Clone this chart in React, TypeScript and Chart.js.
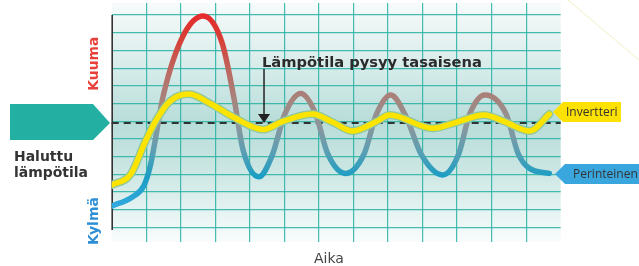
import React, { useEffect, useRef } from "react";
import { Chart, registerables } from "chart.js";

Chart.register(...registerables);

// ---- Data (arbitrary units: time on x, temperature on y) ----
const timeTicks = [0, 1, 2, 3, 4, 5, 6, 7, 8, 9, 10, 11, 12, 13];
const tempTicks = [0, 1, 2, 3, 4, 5, 6, 7, 8, 9, 10, 11, 12];
const targetTemp = 5.9;
const noteTime = 4.41;

const perinteinenTime = [
  0, 0.6, 0.93, 1.12, 1.5, 2.05, 2.65, 3.2, 3.55, 3.8, 4.26, 4.64, 5.01, 5.47,
  5.9, 6.25, 6.77, 7.31, 7.66, 8.08, 8.5, 8.97, 9.58, 10.05, 10.36, 10.81, 11.42,
  11.77, 12.08, 12.67,
];
const perinteinenTemp = [
  1.2, 1.72, 2.35, 3.5, 7.5, 10.75, 11.94, 10.4, 7.2, 4.4, 2.86, 4.04, 6.39, 7.57,
  6.44, 4.18, 3.05, 4.16, 6.37, 7.48, 6.35, 4.09, 2.96, 4.16, 6.37, 7.48, 6.4,
  4.16, 3.35, 3.05,
];

const invertteriTime = [
  0, 0.55, 0.97, 1.3, 1.7, 2.24, 2.85, 3.53, 4.39, 4.93, 5.81, 6.39, 6.97, 7.64,
  8.05, 9.29, 10.0, 10.78, 11.4, 12.1, 12.67,
];
const invertteriTemp = [
  2.39, 3.0, 4.84, 6.1, 7.15, 7.53, 7.0, 6.22, 5.53, 5.97, 6.4, 5.95, 5.44, 5.95,
  6.35, 5.6, 5.95, 6.35, 5.95, 5.44, 6.4,
];

const hotLabel = "Kuuma";
const coldLabel = "Kylmä";
const desiredLabel = ["Haluttu", "lämpötila"];
const noteLabel = "Lämpötila pysyy tasaisena";
const xTitle = "Aika";
const inverterLabel = "Invertteri";
const traditionalLabel = "Perinteinen";

const GRID = "rgba(38,178,163,0.85)";
const FAMILY = "'DejaVu Sans', sans-serif";

const toPoints = (xs: number[], ys: number[]) => xs.map((x, i) => ({ x, y: ys[i] }));

// choose a font size so that text spans the given width
function fitFont(ctx: CanvasRenderingContext2D, text: string, width: number, weight: string) {
  ctx.font = `${weight} 20px ${FAMILY}`;
  const w = ctx.measureText(text).width;
  const size = (20 * width) / w;
  ctx.font = `${weight} ${size.toFixed(2)}px ${FAMILY}`;
}

const decor = {
  id: "decor",
  beforeDraw(chart: any) {
    const { ctx, chartArea: a } = chart;
    ctx.save();
    const g = ctx.createLinearGradient(0, a.top, 0, a.bottom);
    g.addColorStop(0, "#f7fbfb");
    g.addColorStop(0.1, "#ebf5f4");
    g.addColorStop(0.3, "#d3eae8");
    g.addColorStop(0.5, "#b8ddd9");
    g.addColorStop(0.7, "#cbe6e3");
    g.addColorStop(0.9, "#e9f5f4");
    g.addColorStop(1, "#f8fcfc");
    ctx.fillStyle = g;
    ctx.fillRect(a.left, a.top, a.right - a.left, a.bottom - a.top);
    ctx.strokeStyle = "rgba(236,232,170,0.7)";
    ctx.lineWidth = 1;
    ctx.beginPath();
    ctx.moveTo(568, 0);
    ctx.lineTo(639, 60);
    ctx.stroke();
    ctx.restore();
  },
  beforeDatasetsDraw(chart: any) {
    const { ctx, chartArea: a, scales } = chart;
    const ys = scales.y;
    ctx.save();
    ctx.strokeStyle = "#333";
    ctx.lineWidth = 1.6;
    ctx.beginPath();
    ctx.moveTo(a.left + 0.5, ys.getPixelForValue(12));
    ctx.lineTo(a.left + 0.5, ys.getPixelForValue(-0.15));
    ctx.stroke();
    const ty = ys.getPixelForValue(targetTemp);
    ctx.setLineDash([7, 5]);
    ctx.lineWidth = 2;
    ctx.strokeStyle = "#333";
    ctx.beginPath();
    ctx.moveTo(a.left, ty);
    ctx.lineTo(a.right, ty);
    ctx.stroke();
    ctx.restore();
  },
  afterDatasetsDraw(chart: any) {
    const { ctx, scales } = chart;
    const ax = scales.x.getPixelForValue(noteTime);
    const ty = scales.y.getPixelForValue(targetTemp);
    ctx.save();
    ctx.strokeStyle = "#222";
    ctx.fillStyle = "#222";
    ctx.lineWidth = 1.5;
    ctx.beginPath();
    ctx.moveTo(ax, 69);
    ctx.lineTo(ax, ty - 8);
    ctx.stroke();
    ctx.beginPath();
    ctx.moveTo(ax - 6, ty - 9);
    ctx.lineTo(ax + 6, ty - 9);
    ctx.lineTo(ax, ty);
    ctx.closePath();
    ctx.fill();
    fitFont(ctx, noteLabel, 220, "bold");
    ctx.fillStyle = "#2b2b2b";
    ctx.textBaseline = "alphabetic";
    ctx.fillText(noteLabel, 262, 66.5);
    ctx.restore();
  },
  afterDraw(chart: any) {
    const { ctx, scales } = chart;
    const ty = scales.y.getPixelForValue(targetTemp);
    ctx.save();
    ctx.fillStyle = "#23b0a2";
    ctx.beginPath();
    ctx.moveTo(10, ty - 19);
    ctx.lineTo(93, ty - 19);
    ctx.lineTo(110, ty);
    ctx.lineTo(93, ty + 17);
    ctx.lineTo(10, ty + 17);
    ctx.closePath();
    ctx.fill();
    fitFont(ctx, desiredLabel[1], 74, "bold");
    ctx.fillStyle = "#333";
    ctx.textBaseline = "alphabetic";
    ctx.fillText(desiredLabel[0], 14, 161);
    ctx.fillText(desiredLabel[1], 14, 177);
    ctx.textAlign = "center";
    ctx.save();
    ctx.translate(97.5, 63.7);
    ctx.rotate(-Math.PI / 2);
    fitFont(ctx, hotLabel, 54, "bold");
    ctx.fillStyle = "#e8403a";
    ctx.fillText(hotLabel, 0, 0);
    ctx.restore();
    ctx.save();
    ctx.translate(97.5, 221);
    ctx.rotate(-Math.PI / 2);
    fitFont(ctx, coldLabel, 48, "bold");
    ctx.fillStyle = "#2f8fd6";
    ctx.fillText(coldLabel, 0, 0);
    ctx.restore();
    ctx.font = `14px ${FAMILY}`;
    ctx.fillStyle = "#444";
    ctx.fillText(xTitle, 329, 263);
    ctx.textAlign = "left";
    ctx.textBaseline = "middle";
    ctx.fillStyle = "#fde100";
    ctx.beginPath();
    ctx.moveTo(553, 112);
    ctx.lineTo(563, 102);
    ctx.lineTo(621, 102);
    ctx.lineTo(621, 122);
    ctx.lineTo(563, 122);
    ctx.closePath();
    ctx.fill();
    ctx.fillStyle = "#3aa6de";
    ctx.beginPath();
    ctx.moveTo(555, 174);
    ctx.lineTo(565, 164);
    ctx.lineTo(639, 164);
    ctx.lineTo(639, 184);
    ctx.lineTo(565, 184);
    ctx.closePath();
    ctx.fill();
    ctx.font = "12px 'Open Sans', sans-serif";
    ctx.fillStyle = "#333";
    ctx.fillText(inverterLabel, 566, 112.5);
    ctx.fillText(traditionalLabel, 573, 174.5);
    ctx.restore();
  },
};

function traditionalColor(c: any) {
  const chart = c.chart;
  if (!chart.chartArea) return "#888";
  const ys = chart.scales.y;
  const top = ys.getPixelForValue(12);
  const bot = ys.getPixelForValue(1);
  const g = chart.ctx.createLinearGradient(0, top, 0, bot);
  g.addColorStop(0, "#e52b2b");
  g.addColorStop(0.15, "#d4443c");
  g.addColorStop(0.31, "#b86e66");
  g.addColorStop(0.44, "#a5857e");
  g.addColorStop(0.57, "#8b969c");
  g.addColorStop(0.7, "#5b9fb3");
  g.addColorStop(0.83, "#1c9ec4");
  g.addColorStop(1, "#35a9e1");
  return g;
}

export default function App() {
  const ref = useRef<HTMLCanvasElement | null>(null);
  useEffect(() => {
    if (!ref.current) return;
    const gridColor = (lo: number, hi: number) => (c: any) =>
      c.tick && c.tick.value > lo && c.tick.value < hi ? GRID : "rgba(0,0,0,0)";
    const line = {
      pointRadius: 0,
      cubicInterpolationMode: "monotone",
      borderCapStyle: "round",
      borderJoinStyle: "round",
    };
    const chart = new Chart(ref.current, {
      type: "line",
      data: {
        datasets: [
          { ...line, label: "Invertteri", data: toPoints(invertteriTime, invertteriTemp), borderColor: "#fde400", borderWidth: 5.5 },
          { ...line, label: "Invertteri-reuna", data: toPoints(invertteriTime, invertteriTemp), borderColor: "#8fc79c", borderWidth: 8 },
          { ...line, label: "Perinteinen", data: toPoints(perinteinenTime, perinteinenTemp), borderColor: traditionalColor, borderWidth: 5.5 },
        ],
      } as any,
      options: {
        responsive: false,
        animation: false,
        devicePixelRatio: 1,
        events: [],
        layout: { padding: { left: 111.7, right: 78.3, top: 3, bottom: 24.5 } },
        plugins: { legend: { display: false }, tooltip: { enabled: false } },
        scales: {
          x: {
            type: "linear",
            min: 0,
            max: 13,
            afterBuildTicks: (s: any) => {
              s.ticks = timeTicks.map((v) => ({ value: v }));
            },
            ticks: { display: false },
            grid: { color: gridColor(0, 13), lineWidth: 1.2, drawTicks: false },
            border: { display: false },
          },
          y: {
            type: "linear",
            min: -0.8,
            max: 12.68,
            afterBuildTicks: (s: any) => {
              s.ticks = tempTicks.map((v) => ({ value: v }));
            },
            ticks: { display: false },
            grid: { color: gridColor(-1, 13), lineWidth: 1.2, drawTicks: false },
            border: { display: false },
          },
        },
      } as any,
      plugins: [decor],
    });
    return () => chart.destroy();
  }, []);
  return (
    <div style={{ position: "absolute", left: 0, top: 0, width: 639, height: 266, background: "#fff" }}>
      <canvas ref={ref} width={639} height={266} style={{ display: "block" }} />
    </div>
  );
}
